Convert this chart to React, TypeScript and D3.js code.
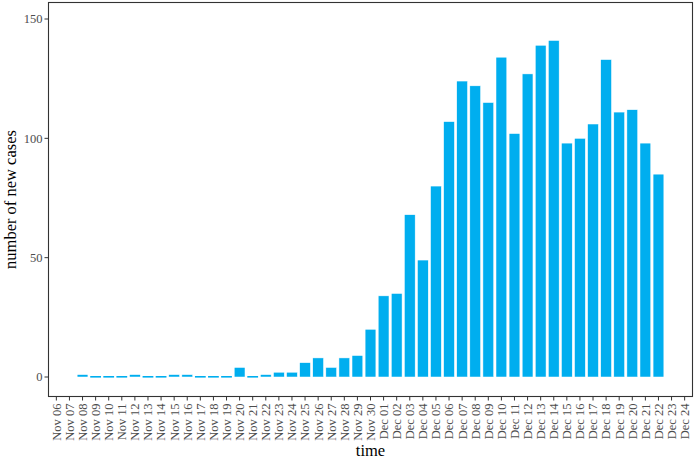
import React from "react";
import * as d3 from "d3";

const dates: string[] = [
  "Nov 06","Nov 07","Nov 08","Nov 09","Nov 10","Nov 11","Nov 12","Nov 13","Nov 14","Nov 15",
  "Nov 16","Nov 17","Nov 18","Nov 19","Nov 20","Nov 21","Nov 22","Nov 23","Nov 24","Nov 25",
  "Nov 26","Nov 27","Nov 28","Nov 29","Nov 30","Dec 01","Dec 02","Dec 03","Dec 04","Dec 05",
  "Dec 06","Dec 07","Dec 08","Dec 09","Dec 10","Dec 11","Dec 12","Dec 13","Dec 14","Dec 15",
  "Dec 16","Dec 17","Dec 18","Dec 19","Dec 20","Dec 21","Dec 22","Dec 23","Dec 24",
];
const cases: (number | null)[] = [
  null, null, 1, 0, 0, 0, 1, 0, 0, 1,
  1, 0, 0, 0, 4, 0, 1, 2, 2, 6,
  8, 4, 8, 9, 20, 34, 35, 68, 49, 80,
  107, 124, 122, 115, 134, 102, 127, 139, 141, 98,
  100, 106, 133, 111, 112, 98, 85, null, null,
];
const yTicks: number[] = [0, 50, 100, 150];

export default function App() {
  const W = 696, H = 460;
  const left = 48.5, right = 692.5, top = 2.5, bottom = 396.5;
  const x = d3.scaleBand<string>().domain(dates).range([left, right]).paddingInner(0.1).paddingOuter(0.15);
  const y = d3.scaleLinear().domain([0, 150]).range([377, 19]);
  const font = "'Liberation Serif', 'Times New Roman', serif";
  const bw = x.bandwidth();
  return (
    <svg width={W} height={H} style={{ position: "absolute", left: 0, top: 0, background: "#fff" }}>
      <rect x={0} y={0} width={W} height={H} fill="#fff" />
      {dates.map((d, i) => {
        const v = cases[i];
        if (v === null) return null;
        const x0 = x(d)!;
        if (v === 0) {
          return <rect key={d} x={x0 + 0.5} y={y(0) - 1} width={bw - 1} height={1.6} fill="#00AEEF" />;
        }
        return (
          <rect key={d} x={x0 + 0.5} y={y(v)} width={bw - 1} height={y(0) - y(v)} fill="#00AEEF"
            stroke="#fff" strokeWidth={0.5} />
        );
      })}
      <rect x={left} y={top} width={right - left} height={bottom - top} fill="none" stroke="#333" strokeWidth={1.1} />
      {yTicks.map((t) => (
        <g key={t}>
          <line x1={left - 4} x2={left} y1={y(t)} y2={y(t)} stroke="#333" strokeWidth={1} />
          <text x={left - 6} y={y(t)} dy="0.35em" textAnchor="end" fontFamily={font} fontSize={12.5} fill="#4d4d4d">{t}</text>
        </g>
      ))}
      {dates.map((d) => {
        const cx = x(d)! + bw / 2;
        return (
          <g key={"t" + d}>
            <line x1={cx} x2={cx} y1={bottom} y2={bottom + 4} stroke="#333" strokeWidth={1} />
            <text transform={`translate(${cx},${bottom + 7}) rotate(-90)`} dy="0.35em" textAnchor="end"
              fontFamily={font} fontSize={12.5} fill="#4d4d4d">{d}</text>
          </g>
        );
      })}
      <text x={(left + right) / 2} y={456} textAnchor="middle" fontFamily={font} fontSize={16.5} fill="#000">time</text>
      <text transform={`translate(10,${(top + bottom) / 2}) rotate(-90)`} textAnchor="middle" dy="0.35em"
        fontFamily={font} fontSize={16.5} fill="#000">number of new cases</text>
    </svg>
  );
}
